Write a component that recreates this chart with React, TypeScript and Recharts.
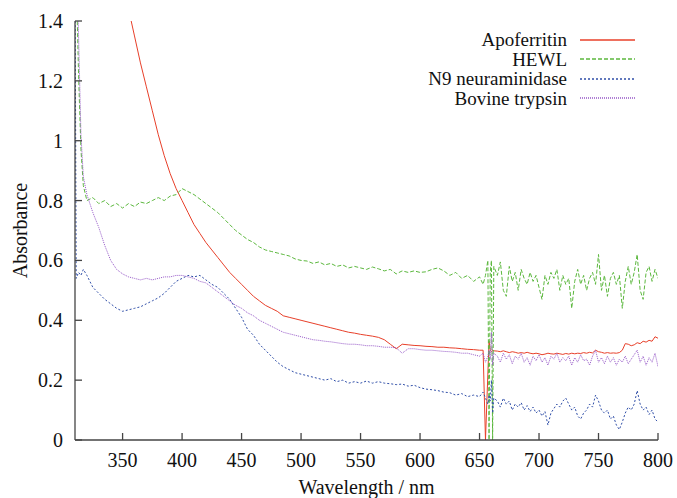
import React from "react";
import { LineChart, Line, XAxis, YAxis, Legend } from "recharts";

// wavelengths (nm) shared by all four spectra
const wavelength = [
  310, 311, 313, 315, 317,
  320, 325, 330, 335, 340, 345, 350, 355, 360, 365,
  370, 375, 380, 385, 390, 395, 400, 405, 410, 415,
  420, 425, 430, 435, 440, 445, 450, 455, 460, 465,
  470, 475, 480, 485, 490, 495, 500, 505, 510, 515,
  520, 525, 530, 535, 540, 545, 550, 555, 560, 565,
  570, 575, 580, 585, 590, 595, 600, 605, 610, 615,
  620, 625, 630, 635, 640, 645, 650,
  653, 655, 657, 658, 659, 660, 661, 662,
  665, 667.5, 670, 672.5, 675, 677.5, 680, 682.5, 685, 687.5,
  690, 692.5, 695, 697.5, 700, 702.5, 705, 707.5, 710, 712.5,
  715, 717.5, 720, 722.5, 725, 727.5, 730, 732.5, 735, 737.5,
  740, 742.5, 745, 747.5, 750, 752.5, 755, 757.5, 760, 762.5,
  765, 767.5, 770, 772.5, 775, 777.5, 780, 782.5, 785, 787.5,
  790, 792.5, 795, 797.5, 800,
];

const apoferritin = [
  null, null, null, null, null,
  null, null, null, null, null, null, null, 1.44, 1.35, 1.26,
  1.18, 1.10, 1.02, 0.95, 0.89, 0.84, 0.80, 0.76, 0.72, 0.69,
  0.66, 0.635, 0.61, 0.585, 0.56, 0.54, 0.52, 0.50, 0.48, 0.465,
  0.45, 0.44, 0.43, 0.415, 0.41, 0.405, 0.40, 0.395, 0.39, 0.385,
  0.38, 0.375, 0.37, 0.365, 0.36, 0.357, 0.353, 0.35, 0.347, 0.343,
  0.335, 0.32, 0.305, 0.32, 0.318, 0.316, 0.315, 0.313, 0.312, 0.31,
  0.31, 0.308, 0.307, 0.305, 0.303, 0.302, 0.30,
  0.30, 0.0, 0.22, 0.33, 0.30, 0.295, 0.30, 0.298,
  0.297, 0.295, 0.298, 0.295, 0.292, 0.295, 0.293, 0.29, 0.292, 0.29,
  0.293, 0.29, 0.288, 0.29, 0.288, 0.285, 0.287, 0.29, 0.288, 0.287,
  0.29, 0.288, 0.286, 0.289, 0.287, 0.29, 0.288, 0.29, 0.289, 0.292,
  0.29, 0.293, 0.291, 0.30, 0.295, 0.293, 0.29, 0.292, 0.29, 0.291,
  0.29, 0.292, 0.30, 0.322, 0.32, 0.315, 0.318, 0.325, 0.322, 0.33,
  0.327, 0.333, 0.33, 0.345, 0.34,
];

const hewl = [
  1.7, 1.55, 1.22, 0.97, 0.85,
  0.80, 0.81, 0.79, 0.80, 0.78, 0.79, 0.775, 0.79, 0.78, 0.795,
  0.79, 0.80, 0.81, 0.80, 0.815, 0.82, 0.84, 0.83, 0.82, 0.805,
  0.79, 0.775, 0.76, 0.74, 0.72, 0.70, 0.685, 0.67, 0.66, 0.645,
  0.635, 0.63, 0.625, 0.62, 0.615, 0.605, 0.60, 0.598, 0.59, 0.595,
  0.585, 0.59, 0.58, 0.585, 0.575, 0.58, 0.575, 0.57, 0.578, 0.572,
  0.565, 0.57, 0.555, 0.565, 0.56, 0.565, 0.56, 0.562, 0.57, 0.575,
  0.565, 0.55, 0.56, 0.54, 0.55, 0.53, 0.545,
  0.52, 0.55, 0.60, 0.0, 0.56, 0.60, 0.0, 0.58,
  0.55, 0.595, 0.50, 0.48, 0.58, 0.53, 0.56, 0.50, 0.57, 0.54,
  0.52, 0.56, 0.53, 0.55, 0.51, 0.47, 0.55, 0.52, 0.56, 0.54,
  0.57, 0.50, 0.55, 0.52, 0.54, 0.44, 0.53, 0.57, 0.52, 0.55,
  0.50, 0.54, 0.56, 0.52, 0.62, 0.50, 0.55, 0.48, 0.54, 0.56,
  0.52, 0.55, 0.44, 0.53, 0.58, 0.52, 0.56, 0.62, 0.50, 0.47,
  0.56, 0.58, 0.53, 0.57, 0.54,
];

const n9Neuraminidase = [
  1.6, 0.54, 0.56, 0.55, 0.57,
  0.55, 0.51, 0.49, 0.47, 0.455, 0.44, 0.43, 0.435, 0.44, 0.445,
  0.455, 0.465, 0.475, 0.49, 0.51, 0.53, 0.54, 0.55, 0.545, 0.55,
  0.535, 0.52, 0.51, 0.49, 0.47, 0.44, 0.41, 0.37, 0.35, 0.32,
  0.30, 0.28, 0.26, 0.245, 0.235, 0.225, 0.22, 0.215, 0.21, 0.205,
  0.20, 0.205, 0.195, 0.20, 0.19, 0.195, 0.19, 0.197, 0.19, 0.195,
  0.19, 0.188, 0.185, 0.187, 0.18, 0.183, 0.175, 0.17, 0.168, 0.165,
  0.16, 0.158, 0.15, 0.155, 0.145, 0.15, 0.145,
  0.16, 0.14, 0.12, 0.15, 0.13, 0.20, 0.09, 0.14,
  0.13, 0.11, 0.14, 0.12, 0.13, 0.10, 0.12, 0.11, 0.125, 0.10,
  0.115, 0.095, 0.11, 0.09, 0.10, 0.08, 0.095, 0.05, 0.09, 0.105,
  0.12, 0.11, 0.13, 0.14, 0.12, 0.10, 0.11, 0.08, 0.07, 0.09,
  0.10, 0.12, 0.11, 0.15, 0.13, 0.10, 0.09, 0.10, 0.07, 0.08,
  0.05, 0.035, 0.06, 0.09, 0.11, 0.10, 0.12, 0.165, 0.12, 0.10,
  0.11, 0.085, 0.10, 0.07, 0.06,
];

const bovineTrypsin = [
  2.0, 1.75, 1.35, 1.02, 0.88,
  0.82, 0.76, 0.71, 0.65, 0.60, 0.57, 0.555, 0.545, 0.54, 0.535,
  0.54, 0.535, 0.54, 0.545, 0.545, 0.55, 0.55, 0.545, 0.54, 0.53,
  0.525, 0.51, 0.495, 0.48, 0.465, 0.45, 0.44, 0.425, 0.415, 0.40,
  0.39, 0.38, 0.37, 0.36, 0.355, 0.35, 0.345, 0.34, 0.335, 0.333,
  0.33, 0.328, 0.325, 0.322, 0.32, 0.32, 0.318, 0.315, 0.315, 0.313,
  0.31, 0.31, 0.308, 0.29, 0.305, 0.305, 0.302, 0.30, 0.30, 0.298,
  0.296, 0.295, 0.293, 0.29, 0.29, 0.285, 0.28,
  0.29, 0.26, 0.28, 0.30, 0.27, 0.36, 0.25, 0.29,
  0.28, 0.26, 0.29, 0.27, 0.285, 0.255, 0.28, 0.27, 0.29, 0.26,
  0.275, 0.25, 0.28, 0.265, 0.285, 0.26, 0.275, 0.25, 0.28, 0.27,
  0.29, 0.26, 0.275, 0.265, 0.28, 0.25, 0.275, 0.26, 0.285, 0.265,
  0.27, 0.25, 0.28, 0.30, 0.26, 0.275, 0.255, 0.28, 0.26, 0.275,
  0.25, 0.27, 0.26, 0.28, 0.255, 0.27, 0.285, 0.30, 0.26, 0.28,
  0.25, 0.275, 0.26, 0.29, 0.245,
];

const xTicks = [350, 400, 450, 500, 550, 600, 650, 700, 750, 800];
const yTicks = [0, 0.2, 0.4, 0.6, 0.8, 1, 1.2, 1.4];

const series = [
  { key: "apo", name: "Apoferritin", color: "#e8402a", dash: undefined },
  { key: "hewl", name: "HEWL", color: "#5cb83e", dash: "4 2" },
  { key: "n9", name: "N9 neuraminidase", color: "#2f4ea8", dash: "2 2" },
  { key: "trypsin", name: "Bovine trypsin", color: "#9658c8", dash: "1 1" },
];

const rows = wavelength.map((w, i) => ({
  w,
  apo: apoferritin[i],
  hewl: hewl[i],
  n9: n9Neuraminidase[i],
  trypsin: bovineTrypsin[i],
}));

const FONT = "'Liberation Serif', 'DejaVu Serif', 'Times New Roman', Times, serif";
const AXIS = "#444";
const TICK = 7;

const BottomTick = (props: any) => {
  const { x, y, payload } = props;
  return (
    <g>
      <line x1={x} x2={x} y1={y} y2={y - TICK} stroke={AXIS} strokeWidth={1.3} />
      <text x={x} y={y + 27} textAnchor="middle" style={{ fontFamily: FONT }} fontSize={20} fill="#111">
        {payload.value}
      </text>
    </g>
  );
};

const TopTick = (props: any) => {
  const { x, y } = props;
  return <line x1={x} x2={x} y1={y} y2={y + TICK} stroke={AXIS} strokeWidth={1.3} />;
};

const LeftTick = (props: any) => {
  const { x, y, payload } = props;
  return (
    <g>
      <line x1={x} x2={x + TICK} y1={y} y2={y} stroke={AXIS} strokeWidth={1.3} />
      <text x={x - 12} y={y} dy="0.35em" textAnchor="end" style={{ fontFamily: FONT }} fontSize={20} fill="#111">
        {payload.value}
      </text>
    </g>
  );
};

const RightTick = (props: any) => {
  const { x, y } = props;
  return <line x1={x} x2={x - TICK} y1={y} y2={y} stroke={AXIS} strokeWidth={1.3} />;
};

const LegendBox = () => (
  <div style={{ width: 268, fontFamily: FONT, fontSize: 19, color: "#111" }}>
    {series.map((s) => (
      <div
        key={s.key}
        style={{ display: "flex", justifyContent: "flex-end", alignItems: "center", height: 19.5 }}
      >
        <span style={{ lineHeight: "19px", whiteSpace: "nowrap" }}>{s.name}</span>
        <svg width={55} height={10} style={{ marginLeft: 13 }}>
          <line x1={0} x2={55} y1={5} y2={5} stroke={s.color} strokeWidth={1.3} strokeDasharray={s.dash} />
        </svg>
      </div>
    ))}
  </div>
);

export default function App() {
  return (
    <div style={{ width: 669, height: 490 }}>
      <style>{"body { margin: 8px 0 0 8px; }"}</style>
      <LineChart width={669} height={490} data={rows} margin={{ top: 13, right: 19, bottom: 0, left: 0 }}>
        <XAxis
          dataKey="w"
          type="number"
          domain={[310, 800]}
          ticks={xTicks}
          interval={0}
          allowDataOverflow
          height={58}
          tickSize={0}
          tickMargin={0}
          tickLine={false}
          axisLine={{ stroke: AXIS, strokeWidth: 1.3 }}
          tick={BottomTick}
          label={{
            value: "Wavelength / nm",
            position: "insideBottom",
            offset: 4,
            style: { fontFamily: FONT, fontSize: 20, fill: "#111" },
          }}
        />
        <XAxis
          xAxisId="top"
          orientation="top"
          dataKey="w"
          type="number"
          domain={[310, 800]}
          ticks={xTicks}
          interval={0}
          allowDataOverflow
          height={0}
          tickSize={0}
          tickMargin={0}
          tickLine={false}
          axisLine={{ stroke: AXIS, strokeWidth: 1.3 }}
          tick={TopTick}
        />
        <YAxis
          type="number"
          domain={[0, 1.4]}
          ticks={yTicks}
          interval={0}
          allowDataOverflow
          width={67}
          tickSize={0}
          tickMargin={0}
          tickLine={false}
          axisLine={{ stroke: AXIS, strokeWidth: 1.3 }}
          tick={LeftTick}
          label={{
            value: "Absorbance",
            angle: -90,
            position: "insideLeft",
            offset: 12,
            style: { fontFamily: FONT, fontSize: 20, fill: "#111", textAnchor: "middle" },
          }}
        />
        <YAxis
          yAxisId="right"
          orientation="right"
          type="number"
          domain={[0, 1.4]}
          ticks={yTicks}
          interval={0}
          allowDataOverflow
          width={0}
          tickSize={0}
          tickMargin={0}
          tickLine={false}
          axisLine={{ stroke: AXIS, strokeWidth: 1.3 }}
          tick={RightTick}
        />
        <Legend
          layout="vertical"
          align="center"
          verticalAlign="middle"
          content={<LegendBox />}
          wrapperStyle={{ left: 359, top: 22, width: 268 }}
        />
        {series.map((s) => (
          <Line
            key={s.key}
            type="linear"
            dataKey={s.key}
            name={s.name}
            stroke={s.color}
            strokeWidth={1}
            strokeDasharray={s.dash}
            dot={false}
            activeDot={false}
            isAnimationActive={false}
          />
        ))}
      </LineChart>
    </div>
  );
}
